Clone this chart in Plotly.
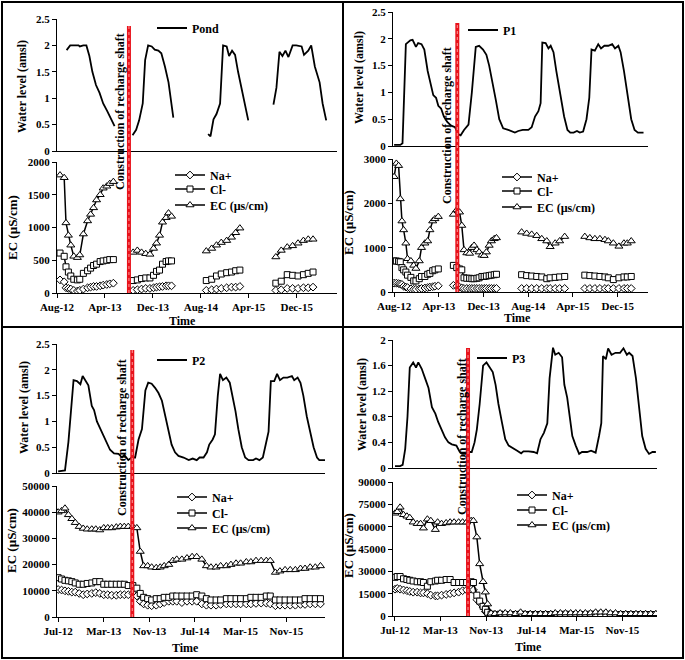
import plotly.graph_objects as go
import pandas as pd

# ---------------- DATA (months counted from each panel's first axis month) ----------------
POND_START = "2012-08-01"
P1_START = "2012-08-01"
P2_START = "2012-07-01"
P3_START = "2012-07-01"

X_TICK_FORMAT = "%b-%y"  # Aug-12, Apr-13 ...

# Construction of recharge shaft (month offset from the panel start)
POND_CONSTRUCTION = 12.0
P1_CONSTRUCTION = 11.3
P2_CONSTRUCTION = 13.0
P3_CONSTRUCTION = 12.85

# ---- Pond ----
POND_WL_MONTHS = [
    [1.6, 2.2, 3.0, 3.6, 3.8, 4.4, 4.9, 5.4, 5.9, 6.5, 7.1, 7.7, 8.4, 9.0, 9.6],
    [12.6, 13.2, 13.7, 14.3, 14.7, 15.2, 15.8, 16.3, 16.9, 17.4, 18.0, 18.6, 19.4],
    [25.2, 25.6, 26.1, 26.6, 27.2, 27.7, 28.3, 28.7, 29.2, 29.7, 30.2, 30.9, 31.9],
    [36.1, 36.6, 37.1, 37.6, 38.1, 38.6, 39.3, 39.9, 40.8, 41.2, 41.9, 42.4, 43.0, 43.8, 44.3, 44.9],
]
POND_WL = [
    [1.91, 2.0, 2.0, 2.0, 1.98, 2.0, 2.0, 1.8, 1.5, 1.25, 1.1, 0.9, 0.75, 0.6, 0.47],
    [0.3, 0.4, 0.58, 0.9, 1.72, 2.0, 1.98, 1.92, 1.9, 1.85, 1.6, 1.3, 0.63],
    [0.32, 0.28, 0.6, 0.7, 0.9, 2.0, 1.98, 1.8, 1.9, 1.82, 1.5, 1.1, 0.58],
    [0.88, 1.2, 1.88, 1.8, 1.9, 1.78, 2.0, 2.0, 1.98, 1.82, 1.9, 2.0, 1.6, 1.3, 0.9, 0.58],
]
POND_CHEM_MONTHS = [
    [0.5, 1.2, 1.5, 1.9, 2.3, 2.8, 3.4, 3.8, 4.4, 5.1, 5.6, 6.1, 6.6, 7.2, 7.7, 8.3, 8.8, 9.4],
    [12.7, 13.4, 14.1, 14.8, 15.5, 16.1, 16.6, 17.1, 17.6, 18.2, 18.6, 19.1],
    [24.9, 25.8, 26.6, 27.4, 28.3, 29.1, 29.8, 30.5],
    [36.5, 37.4, 38.4, 39.3, 40.2, 41.1, 41.9, 42.7],
]
POND_EC = [
    [1800, 1760, 1070, 880, 730, 560, 540, 580, 900, 1100, 1200, 1300, 1420, 1500, 1600, 1630, 1670, 1700],
    [620, 650, 620, 600, 590, 680, 760, 880, 1080, 1150, 1220, 1170],
    [640, 680, 730, 770, 800, 850, 920, 990],
    [550, 650, 700, 720, 760, 800, 820, 820],
]
POND_CL = [
    [610, 560, 400, 320, 260, 210, 200, 210, 300, 340, 380, 420, 440, 480, 490, 500, 510, 510],
    [190, 200, 220, 230, 230, 270, 330, 350, 440, 480, 490, 490],
    [190, 210, 260, 290, 310, 320, 340, 350],
    [150, 180, 280, 270, 260, 280, 300, 320],
]
POND_NA = [
    [200, 170, 80, 70, 60, 40, 30, 40, 60, 80, 90, 100, 100, 110, 120, 130, 140, 150],
    [40, 50, 60, 70, 70, 80, 90, 95, 100, 110, 110, 110],
    [40, 50, 60, 70, 80, 90, 90, 100],
    [40, 50, 70, 70, 70, 80, 80, 90],
]

# ---- P1 ----
P1_WL_MONTHS = [[
    0, 1.1, 1.5, 2.1, 2.9, 3.3, 3.9, 4.3, 4.9, 5.4,
    6.0, 6.5, 7.0, 7.5, 7.9, 8.4, 8.9, 9.5, 10.2, 10.9,
    11.5, 11.9, 12.5, 13.3, 13.9, 14.6, 15.2, 15.9, 16.5, 17.0,
    17.6, 18.2, 18.8, 19.5, 20.4, 21.0, 21.6, 22.2, 23.0, 24.0,
    24.6, 25.2, 25.8, 26.2, 26.5, 27.1, 27.6, 28.0, 28.5, 29.0,
    29.8, 30.4, 31.0, 31.5, 32.1, 32.7, 33.2, 33.8, 34.4, 34.9,
    35.3, 35.9, 36.5, 37.0, 37.6, 38.3, 39.0, 39.5, 40.1, 40.5,
    41.1, 41.8, 42.4, 43.0, 43.6, 44.6]]
P1_WL = [[
    0.02, 0.02, 0.05, 1.9, 1.97, 1.98, 1.85, 1.92, 1.9, 1.8,
    1.4, 1.15, 0.95, 0.9, 0.75, 0.7, 0.55, 0.45, 0.38, 0.35,
    0.22, 0.2, 0.3, 0.4, 1.0, 1.85, 1.87, 1.8, 1.7, 1.5,
    1.2, 0.85, 0.5, 0.33, 0.3, 0.28, 0.25, 0.28, 0.3, 0.3,
    0.35, 0.55, 0.65, 0.8, 1.93, 1.92, 1.82, 1.87, 1.75, 1.4,
    0.95, 0.55, 0.3, 0.25, 0.25, 0.28, 0.25, 0.27, 0.5, 0.9,
    1.8, 1.78, 1.9, 1.82, 1.87, 1.87, 1.9, 1.82, 1.87, 1.75,
    1.4, 0.9, 0.5, 0.3, 0.25, 0.25]]
P1_CHEM_MONTHS = [
    [0, 0.4, 0.8, 1.1, 1.4, 1.7, 2.1, 2.4, 3.0, 3.5, 3.9, 4.5, 4.9, 5.5, 6.0, 6.4, 6.9, 7.3, 7.9],
    [10.6, 11.2, 11.7, 12.1, 12.5, 13.0, 13.5, 13.9, 14.3, 14.8, 15.2, 15.7, 16.1, 16.5, 17.0, 17.4, 17.9, 18.3],
    [22.8, 23.7, 24.6, 25.5, 26.4, 27.3, 27.9, 28.8, 29.6, 30.5],
    [34.1, 35.0, 35.9, 36.8, 37.7, 38.3, 39.2, 40.2, 41.1, 41.7, 42.4],
]
P1_EC = [
    [2600, 2900, 2850, 2100, 1600, 1400, 1100, 750, 700, 600, 530, 700, 1000, 1100, 1150, 1400, 1600, 1650, 1700],
    [1750, 1850, 1800, 1500, 950, 880, 870, 1000, 1050, 950, 900, 830, 820, 900, 1050, 1150, 1200, 1220],
    [1350, 1320, 1300, 1270, 1200, 1150, 1020, 1100, 1150, 1250],
    [1250, 1220, 1200, 1200, 1180, 1150, 1100, 1030, 1100, 1100, 1150],
]
P1_CL = [
    [700, 700, 690, 680, 550, 500, 450, 380, 330, 250, 250, 300, 350, 350, 400, 420, 480, 500, 520],
    [600, 550, 520, 500, 320, 310, 310, 300, 300, 310, 320, 350, 350, 360, 370, 380, 390, 400],
    [390, 370, 360, 350, 340, 300, 320, 330, 340, 350],
    [380, 370, 360, 350, 340, 320, 280, 320, 340, 340, 350],
]
P1_NA = [
    [200, 200, 190, 180, 170, 130, 110, 100, 70, 60, 60, 70, 80, 90, 100, 110, 120, 130, 140],
    [150, 130, 110, 90, 80, 80, 80, 80, 80, 80, 80, 80, 80, 80, 80, 80, 80, 80],
    [80, 80, 80, 80, 80, 80, 80, 80, 80, 80],
    [80, 80, 80, 80, 80, 80, 80, 80, 80, 80, 80],
]

# ---- P2 ----
P2_WL_MONTHS = [[
    0, 1.2, 1.8, 2.2, 2.7, 3.3, 3.9, 4.3, 4.7, 5.3,
    5.9, 6.3, 6.8, 7.4, 8.0, 8.5, 9.1, 9.8, 10.6, 11.2,
    11.6, 12.3, 12.9, 13.5, 14.1, 14.7, 15.3, 15.8, 16.4, 17.0,
    17.6, 18.2, 18.8, 19.4, 19.9, 20.5, 21.1, 22.0, 22.9, 23.6,
    24.3, 24.8, 25.5, 26.1, 26.5, 27.1, 27.5, 28.0, 28.4, 28.9,
    29.5, 30.1, 30.5, 31.1, 31.6, 32.2, 32.8, 33.4, 34.2, 34.7,
    35.3, 35.9, 36.5, 36.9, 37.3, 37.9, 38.4, 38.9, 39.5, 40.2,
    41.0, 41.4, 42.0, 42.5, 43.0, 43.6, 44.2, 44.8, 45.4, 45.8,
    46.8]]
P2_WL = [[
    0.03, 0.05, 0.6, 1.2, 1.8, 1.78, 1.72, 1.88, 1.8, 1.7,
    1.3, 1.22, 1.0, 0.85, 0.72, 0.6, 0.45, 0.38, 0.37, 0.3,
    0.35, 0.25, 0.3, 0.3, 0.65, 0.85, 1.6, 1.75, 1.73, 1.65,
    1.55, 1.4, 1.1, 0.8, 0.55, 0.4, 0.33, 0.3, 0.25, 0.28,
    0.25, 0.3, 0.3, 0.4, 0.55, 0.65, 0.75, 1.5, 1.92, 1.8,
    1.85, 1.75, 1.55, 1.2, 0.85, 0.5, 0.3, 0.25, 0.25, 0.28,
    0.25, 0.3, 0.6, 0.8, 1.78, 1.78, 1.92, 1.8, 1.85, 1.85,
    1.88, 1.8, 1.85, 1.75, 1.5, 1.1, 0.8, 0.5, 0.3, 0.25,
    0.25]]
P2_CHEM_MONTHS = [[
    0, 0.6, 1.2, 1.8, 2.4, 3.0, 3.7, 4.4, 5.1, 5.9,
    6.6, 7.3, 8.0, 8.7, 9.4, 10.2, 10.9, 11.6, 12.3, 13.1,
    13.8, 14.4, 15.0, 15.7, 16.4, 17.2, 17.9, 18.6, 19.4, 20.1,
    20.8, 21.7, 22.6, 23.5, 24.3, 25.2, 26.0, 26.8, 27.7, 28.5,
    29.5, 30.3, 31.2, 32.0, 33.0, 33.8, 34.7, 35.6, 36.5, 37.2,
    38.1, 38.9, 39.8, 40.7, 41.6, 42.5, 43.3, 44.2, 45.1, 46.0]]
P2_EC = [[
    40000, 40500, 41500, 39000, 37500, 36000, 34500, 33800, 33500, 33500,
    33500, 33200, 34000, 34000, 34000, 34300, 34500, 34500, 34500, 34500,
    34000, 25000, 19500, 19500, 19000, 18800, 19000, 19500, 20000, 21500,
    22000, 22000, 22500, 23000, 23000, 22000, 19500, 19000, 19000, 19500,
    19500, 20000, 20500, 20500, 21000, 21000, 21500, 21500, 21500, 21500,
    17000, 17500, 18000, 18000, 18000, 18500, 18500, 19000, 19000, 19500]]
P2_CL = [[
    15000, 14500, 14000, 13800, 13500, 13000, 12500, 12500, 12800, 13000,
    13500, 13500, 12500, 12500, 12500, 12500, 12500, 12500, 12000, 12000,
    11000, 9000, 7500, 7000, 6500, 7000, 7000, 7500, 7500, 8000,
    8000, 8000, 8000, 8000, 8500, 8000, 7000, 6500, 6500, 6500,
    7000, 7000, 7000, 7000, 7000, 7500, 7500, 7500, 8000, 8000,
    6500, 6500, 6500, 6500, 6500, 6500, 7000, 7000, 7000, 7000]]
P2_NA = [[
    10500, 10300, 10000, 9800, 9500, 9500, 9000, 8500, 8800, 9000,
    9300, 9000, 8500, 8500, 8300, 8300, 8500, 8500, 8500, 9000,
    8000, 6000, 5000, 4500, 4300, 4500, 5000, 5500, 6000, 6000,
    6000, 5500, 6000, 6000, 6000, 5000, 4500, 4500, 4500, 4800,
    5000, 5000, 5000, 5000, 5000, 5000, 5200, 5300, 5300, 5000,
    4300, 4500, 4500, 4500, 4500, 4800, 4800, 5000, 5000, 5000]]

# ---- P3 ----
P3_WL_MONTHS = [[
    0, 0.9, 1.35, 1.8, 2.2, 2.6, 3.2, 3.7, 4.1, 4.7,
    5.3, 5.9, 6.5, 7.1, 7.6, 8.2, 8.8, 9.4, 10.0, 10.8,
    11.4, 11.8, 12.4, 12.9, 13.5, 14.0, 14.4, 14.9, 15.5, 16.1,
    16.6, 17.2, 17.7, 18.2, 18.8, 19.4, 20.0, 20.8, 21.5, 22.2,
    22.6, 23.5, 24.4, 25.0, 25.6, 26.2, 26.8, 27.2, 27.8, 28.2,
    28.8, 29.4, 29.8, 30.3, 30.8, 31.2, 31.8, 32.4, 32.9, 33.8,
    34.5, 35.3, 35.9, 36.3, 36.6, 37.1, 37.5, 38.1, 38.8, 39.6,
    40.2, 40.8, 41.2, 41.8, 42.4, 42.9, 43.5, 44.1, 44.7, 45.3,
    45.9]]
P3_WL = [[
    0.03, 0.03, 0.05, 0.3, 0.8, 1.57, 1.65, 1.57, 1.65, 1.55,
    1.4, 1.25, 0.95, 0.85, 0.72, 0.6, 0.48, 0.4, 0.37, 0.35,
    0.25, 0.22, 0.22, 0.25, 0.25, 0.4, 0.6, 1.0, 1.6, 1.65,
    1.58, 1.5, 1.3, 1.0, 0.72, 0.45, 0.35, 0.3, 0.27, 0.23,
    0.26, 0.26, 0.25, 0.23, 0.45, 0.55, 0.7, 1.4, 1.88, 1.77,
    1.8, 1.73, 1.3, 1.1, 0.75, 0.5, 0.35, 0.22, 0.25, 0.25,
    0.27, 0.24, 0.5, 0.7, 1.75, 1.7, 1.87, 1.77, 1.8, 1.8,
    1.87, 1.77, 1.8, 1.75, 1.4, 1.0, 0.5, 0.3, 0.22, 0.25,
    0.25]]
P3_CHEM_MONTHS = [[
    0, 0.4, 0.9, 1.5, 2.1, 2.6, 3.2, 3.9, 4.5, 5.0,
    5.7, 6.3, 7.1, 7.5, 8.2, 9.0, 9.7, 10.4, 11.2, 11.9,
    12.6, 13.4, 13.8, 14.4, 14.9, 15.5, 15.9, 16.3, 16.9, 17.6,
    18.5, 19.4, 20.3, 21.2, 22.1, 22.9, 23.8, 24.7, 25.6, 26.5,
    27.4, 28.2, 29.1, 30.0, 30.9, 31.8, 32.6, 33.5, 34.4, 35.3,
    36.2, 37.1, 37.9, 38.8, 39.7, 40.6, 41.5, 42.4, 43.2, 44.1,
    45.0, 45.9]]
P3_EC = [[
    69000, 70000, 73000, 68000, 67000, 66000, 63000, 62000, 62000, 59000,
    65000, 64000, 58000, 63000, 62000, 62500, 63000, 63000, 63000, 63000,
    63000, 64000, 64000, 53000, 35000, 23000, 16000, 8000, 1800, 1500,
    2000, 2000, 2000, 1500, 2500, 1500, 1500, 1500, 1500, 1500,
    1500, 2000, 2000, 2000, 2000, 2000, 2000, 2000, 2000, 2500,
    2500, 2500, 2000, 2000, 1500, 1500, 1500, 1500, 1500, 1500,
    1500, 1500]]
P3_CL = [[
    26000, 26500, 26500, 25000, 24500, 24000, 23500, 23000, 23000, 22500,
    20000, 23000, 23500, 24000, 24000, 24500, 24500, 22500, 22500, 22500,
    22500, 23000, 22500, 14000, 10000, 6500, 4500, 2500, 1200, 1000,
    1200, 1000, 1000, 1000, 1200, 1000, 1000, 1000, 1000, 1000,
    1000, 1000, 1000, 1200, 1000, 1000, 1000, 1000, 1200, 1200,
    1200, 1200, 1000, 1000, 1000, 1000, 1000, 1000, 1000, 1000,
    1000, 1000]]
P3_NA = [[
    18000, 18500, 18000, 17500, 17000, 16500, 16000, 16000, 15500, 15500,
    15000, 14000, 13500, 13500, 14000, 14500, 15000, 15500, 16000, 17000,
    17500, 18000, 17500, 11000, 9000, 6000, 3000, 1500, 800, 800,
    800, 800, 800, 800, 800, 800, 800, 800, 800, 800,
    800, 800, 800, 800, 800, 800, 800, 800, 800, 800,
    800, 800, 800, 800, 800, 800, 800, 800, 800, 800,
    800, 800]]

WL_NAMES = ["Pond", "P1", "P2", "P3"]
CHEM_NAMES = ["Na+", "Cl-", "EC (µs/cm)"]
WL_TITLE = "Water level (amsl)"
EC_TITLE = "EC (µS/cm)"
TIME_TITLE = "Time"
EVENT_TEXT = "Construction of recharge shaft"

# ---------------- LAYOUT / STYLE ----------------
W, H = 685, 660
FONT = "Liberation Serif"


def fx(p):
    return p / W


def fy(p):
    return 1 - p / H


def to_dates(start, months):
    s = pd.Timestamp(start)
    return [s + pd.Timedelta(days=m * 30.4375) for m in months]


def flatten(start, month_segs, value_segs):
    xs, ys = [], []
    for i, (ms, vs) in enumerate(zip(month_segs, value_segs)):
        if i > 0:
            xs.append(None)
            ys.append(None)
        xs.extend(to_dates(start, ms))
        ys.extend(vs)
    return xs, ys


panels = [
    dict(name=WL_NAMES[0], start=POND_START, wl_m=POND_WL_MONTHS, wl=POND_WL,
         ch_m=POND_CHEM_MONTHS, na=POND_NA, cl=POND_CL, ec=POND_EC, event=POND_CONSTRUCTION,
         xdom=(57, 337), mrange=(0, 46.7), top=(151, 19), bot=(293, 162),
         wlmax=2.5, wldt=0.5, ecmax=2000, ecdt=500,
         wl_leg=(192, 28), ch_leg=(210, [175, 189, 205]), red_top=26,
         ev_lab=(120, 112), time=(183, 321), wl_t=(22, 87), ec_t=(12, 228)),
    dict(name=WL_NAMES[1], start=P1_START, wl_m=P1_WL_MONTHS, wl=P1_WL,
         ch_m=P1_CHEM_MONTHS, na=P1_NA, cl=P1_CL, ec=P1_EC, event=P1_CONSTRUCTION,
         xdom=(393, 648), mrange=(-0.2, 45.4), top=(146, 12), bot=(292, 159),
         wlmax=2.5, wldt=0.5, ecmax=3000, ecdt=1000,
         wl_leg=(503, 30), ch_leg=(537, [177, 191, 207]), red_top=23,
         ev_lab=(447, 125), time=(517, 318), wl_t=(359, 78), ec_t=(348, 222)),
    dict(name=WL_NAMES[2], start=P2_START, wl_m=P2_WL_MONTHS, wl=P2_WL,
         ch_m=P2_CHEM_MONTHS, na=P2_NA, cl=P2_CL, ec=P2_EC, event=P2_CONSTRUCTION,
         xdom=(57, 325), mrange=(-0.2, 46.8), top=(473, 344), bot=(617, 486),
         wlmax=2.5, wldt=0.5, ecmax=50000, ecdt=10000,
         wl_leg=(192, 360), ch_leg=(212, [497, 513, 528]), red_top=350,
         ev_lab=(122, 438), time=(185, 648), wl_t=(24, 408), ec_t=(11, 541)),
    dict(name=WL_NAMES[3], start=P3_START, wl_m=P3_WL_MONTHS, wl=P3_WL,
         ch_m=P3_CHEM_MONTHS, na=P3_NA, cl=P3_CL, ec=P3_EC, event=P3_CONSTRUCTION,
         xdom=(393, 657), mrange=(-0.35, 46.1), top=(468, 340), bot=(616, 482),
         wlmax=2.0, wldt=0.4, ecmax=90000, ecdt=15000,
         wl_leg=(512, 358), ch_leg=(552, [495, 510, 525]), red_top=348,
         ev_lab=(462, 437), time=(528, 647), wl_t=(362, 405), ec_t=(348, 545)),
]

tickfont = dict(family=FONT, size=11, color="black", weight="bold")
titlefont = dict(family=FONT, size=12, color="black", weight="bold")
ectitlefont = dict(family=FONT, size=13, color="black", weight="bold")
legfont = dict(family=FONT, size=12, color="black", weight="bold")
TEXT_GAP = 40  # distance from legend box left edge to entry text (itemwidth 30)

fig = go.Figure()
layout = dict(template="none", width=W, height=H,
              margin=dict(l=0, r=0, t=0, b=0, pad=0, autoexpand=False),
              paper_bgcolor="white", plot_bgcolor="rgba(0,0,0,0)", showlegend=True)
shapes, annotations = [], []

marker_styles = [
    dict(symbol="diamond", size=6),
    dict(symbol="square", size=6),
    dict(symbol="triangle-up", size=7),
]

leg_counter = [0]


def new_legend(x_text_px, y_px):
    leg_counter[0] += 1
    name = "legend" if leg_counter[0] == 1 else f"legend{leg_counter[0]}"
    layout[name] = dict(x=fx(x_text_px - TEXT_GAP), y=fy(y_px), xanchor="left",
                        yanchor="middle", bgcolor="rgba(0,0,0,0)", font=legfont,
                        itemwidth=30, borderwidth=0, tracegroupgap=0)
    return name


for i, p in enumerate(panels):
    ti, bi = 2 * i + 1, 2 * i + 2
    xt, yt = ("x" if ti == 1 else f"x{ti}"), ("y" if ti == 1 else f"y{ti}")
    xb, yb = f"x{bi}", f"y{bi}"

    # water level
    xs, ys = flatten(p["start"], p["wl_m"], p["wl"])
    fig.add_trace(go.Scatter(x=xs, y=ys, mode="lines", name=p["name"],
                             line=dict(color="black", width=1.8),
                             xaxis=xt, yaxis=yt,
                             legend=new_legend(p["wl_leg"][0], p["wl_leg"][1])))
    # chemistry
    for k, (nm, vals, ms) in enumerate(zip(CHEM_NAMES, [p["na"], p["cl"], p["ec"]], marker_styles)):
        xs, ys = flatten(p["start"], p["ch_m"], vals)
        fig.add_trace(go.Scatter(x=xs, y=ys, mode="lines+markers", name=nm,
                                 line=dict(color="black", width=1.5),
                                 marker=dict(symbol=ms["symbol"], size=ms["size"], color="white",
                                             line=dict(color="black", width=1)),
                                 xaxis=xb, yaxis=yb,
                                 legend=new_legend(p["ch_leg"][0], p["ch_leg"][1][k])))

    r0, r1 = to_dates(p["start"], list(p["mrange"]))
    xdom = [fx(p["xdom"][0]), fx(p["xdom"][1])]
    common_x = dict(domain=xdom, range=[r0, r1], type="date", showline=True,
                    linecolor="black", linewidth=1, showgrid=False, zeroline=False,
                    automargin=False)
    layout["xaxis" if ti == 1 else f"xaxis{ti}"] = dict(
        common_x, anchor=yt, ticks="", showticklabels=False)
    layout[f"xaxis{bi}"] = dict(
        common_x, anchor=yb, ticks="outside", ticklen=4, tickcolor="black", tickwidth=1,
        tick0=p["start"], dtick="M8", tickformat=X_TICK_FORMAT, tickfont=tickfont)
    common_y = dict(showline=True, linecolor="black", linewidth=1, showgrid=False,
                    zeroline=False, ticks="outside", ticklen=4, tickcolor="black", tickwidth=1,
                    tickfont=tickfont, automargin=False)
    layout["yaxis" if ti == 1 else f"yaxis{ti}"] = dict(
        common_y, anchor=xt, domain=[fy(p["top"][0]), fy(p["top"][1])],
        range=[0, p["wlmax"]], dtick=p["wldt"], tick0=0)
    layout[f"yaxis{bi}"] = dict(
        common_y, anchor=xb, domain=[fy(p["bot"][0]), fy(p["bot"][1])],
        range=[0, p["ecmax"]], dtick=p["ecdt"], tick0=0, tickformat="d")

    # construction line
    ev = to_dates(p["start"], [p["event"]])[0]
    for col, w, dash in [("#e8121b", 4, "solid"), ("#ff9a9a", 1, "dot")]:
        shapes.append(dict(type="line", xref=xb, yref="paper", x0=ev, x1=ev,
                           y0=fy(p["bot"][0]), y1=fy(p["red_top"]),
                           line=dict(color=col, width=w, dash=dash), layer="above"))
    annotations.append(dict(text=EVENT_TEXT, textangle=-90, xref="paper", yref="paper",
                            x=fx(p["ev_lab"][0]), y=fy(p["ev_lab"][1]), showarrow=False,
                            xanchor="center", yanchor="middle", font=titlefont))
    annotations.append(dict(text=TIME_TITLE, xref="paper", yref="paper",
                            x=fx(p["time"][0]), y=fy(p["time"][1]), showarrow=False,
                            xanchor="center", yanchor="middle", font=titlefont))
    annotations.append(dict(text=WL_TITLE, textangle=-90, xref="paper", yref="paper",
                            x=fx(p["wl_t"][0]), y=fy(p["wl_t"][1]), showarrow=False,
                            xanchor="center", yanchor="middle", font=titlefont))
    annotations.append(dict(text=EC_TITLE, textangle=-90, xref="paper", yref="paper",
                            x=fx(p["ec_t"][0]), y=fy(p["ec_t"][1]), showarrow=False,
                            xanchor="center", yanchor="middle", font=ectitlefont))

# panel frames
for (x0, y0, x1, y1) in [(2, 2, 343, 327), (343, 2, 683, 327), (2, 327, 343, 658), (343, 327, 683, 658)]:
    shapes.append(dict(type="rect", xref="paper", yref="paper", x0=fx(x0), x1=fx(x1),
                       y0=fy(y1), y1=fy(y0), line=dict(color="black", width=2), layer="above"))

layout["shapes"] = shapes
layout["annotations"] = annotations
fig.update_layout(**layout)

# remove the default 8px page margin so the figure sits at the window's top-left corner
PAGE_CSS_FIX = "document.body.style.margin='0';document.body.style.overflow='hidden';"
fig.write_html("out.html", post_script=PAGE_CSS_FIX, config={"displayModeBar": False})
